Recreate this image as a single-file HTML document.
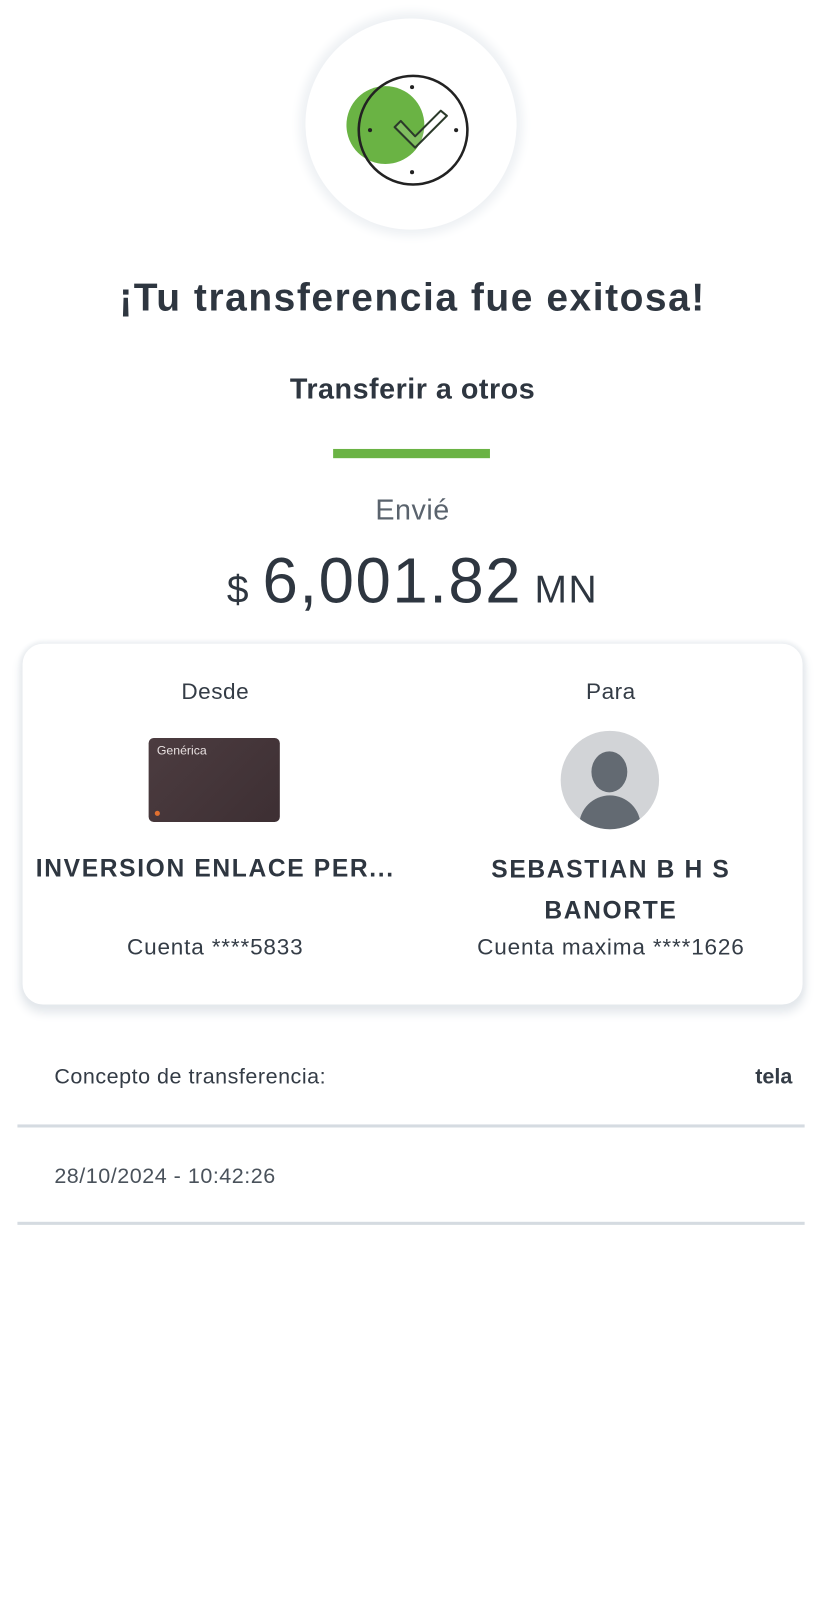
<!DOCTYPE html>
<html><head><meta charset="utf-8"><style>
body{margin:0;width:820px;height:1600px;background:#fff;font-family:"Liberation Sans",sans-serif;color:#343c46;position:relative;overflow:hidden}
#w{position:absolute;left:0;top:0;width:800px;height:1560px;transform:scale(1.025);transform-origin:0 0}
.a{position:absolute}
.c{text-align:center}
</style></head><body><div id="w">
<div class="a" style="left:298px;top:18px;width:206px;height:206px;border-radius:50%;background:#fff;box-shadow:0 0 10px 6px #eef1f4"></div>
<svg class="a" style="left:330px;top:60px" width="140" height="140" viewBox="330 60 140 140">
<circle cx="376" cy="122" r="38" fill="#6ab344"/>
<circle cx="403" cy="127" r="53" fill="none" stroke="#222" stroke-width="2.5"/>
<circle cx="402" cy="85" r="2" fill="#222"/><circle cx="402" cy="168" r="2" fill="#222"/>
<circle cx="361" cy="127" r="2" fill="#222"/><circle cx="445" cy="127" r="2" fill="#222"/>
<path d="M385 124 L405 144 L436 113 L430 108 L405 133 L391 118 Z" fill="rgba(255,255,255,0.15)" stroke="#2b3a2a" stroke-width="2" stroke-linejoin="round"/>
</svg>
<div class="a c" style="left:0;width:805px;top:270px;font-size:38px;font-weight:bold;color:#2e3640;letter-spacing:1.5px">¡Tu transferencia fue exitosa!</div>
<div class="a c" style="left:0;width:805px;top:364px;font-size:28px;font-weight:bold;color:#2e3640;letter-spacing:0.5px">Transferir a otros</div>
<div class="a" style="left:325px;top:438px;width:153px;height:9px;background:#6ab344"></div>
<div class="a c" style="left:0;width:805px;top:482px;font-size:28px;color:#5a636d;letter-spacing:0.5px">Envié</div>
<div class="a c" style="left:0;width:805px;top:532px;color:#2e3640;letter-spacing:1.5px"><span style="font-size:38px">$ </span><span style="font-size:62px">6,001.82</span><span style="font-size:38px"> MN</span></div>
<div class="a" style="left:22px;top:628px;width:761px;height:352px;border-radius:20px;background:#fff;box-shadow:0 6px 10px 2px #e4e8ec,0 0 4px 2px #eceff2"></div>
<div class="a c" style="left:22px;width:376px;top:662px;font-size:22px;letter-spacing:0.5px">Desde</div>
<div class="a c" style="left:408px;width:376px;top:662px;font-size:22px;letter-spacing:0.5px">Para</div>
<div class="a" style="left:145px;top:720px;width:128px;height:82px;border-radius:5px;background:linear-gradient(135deg,#4c3c40,#3d2f33)"><span style="position:absolute;left:8px;top:5px;color:#e8e0e0;font-size:12px">Genérica</span><span style="position:absolute;left:6px;bottom:6px;width:5px;height:5px;border-radius:50%;background:#e07030"></span></div>
<div class="a" style="left:547px;top:713px;width:96px;height:96px;border-radius:50%;background:#d2d4d7;overflow:hidden">
<div class="a" style="left:30px;top:20px;width:35px;height:40px;border-radius:50%;background:#636a72"></div>
<div class="a" style="left:18px;top:63px;width:60px;height:50px;border-radius:30px 30px 0 0;background:#636a72"></div></div>
<div class="a c" style="left:12px;width:396px;top:834px;font-size:24px;font-weight:bold;color:#2e3640;letter-spacing:1.6px">INVERSION ENLACE PER...</div>
<div class="a c" style="left:398px;width:396px;top:829px;font-size:24px;font-weight:bold;color:#2e3640;line-height:40px;letter-spacing:1.6px">SEBASTIAN B H S<br>BANORTE</div>
<div class="a c" style="left:22px;width:376px;top:911px;font-size:22px;letter-spacing:0.8px">Cuenta ****5833</div>
<div class="a c" style="left:398px;width:396px;top:911px;font-size:22px;letter-spacing:0.8px">Cuenta maxima ****1626</div>
<div class="a" style="left:53px;top:1039px;font-size:21px;letter-spacing:0.5px">Concepto de transferencia:</div>
<div class="a" style="right:27px;top:1039px;font-size:21px;font-weight:bold">tela</div>
<div class="a" style="left:17px;top:1097px;width:768px;height:3px;background:#d5dbe1"></div>
<div class="a" style="left:53px;top:1136px;font-size:21px;color:#4a525b;letter-spacing:0.5px">28/10/2024 - 10:42:26</div>
<div class="a" style="left:17px;top:1192px;width:768px;height:3px;background:#d5dbe1"></div>
</div></body></html>
